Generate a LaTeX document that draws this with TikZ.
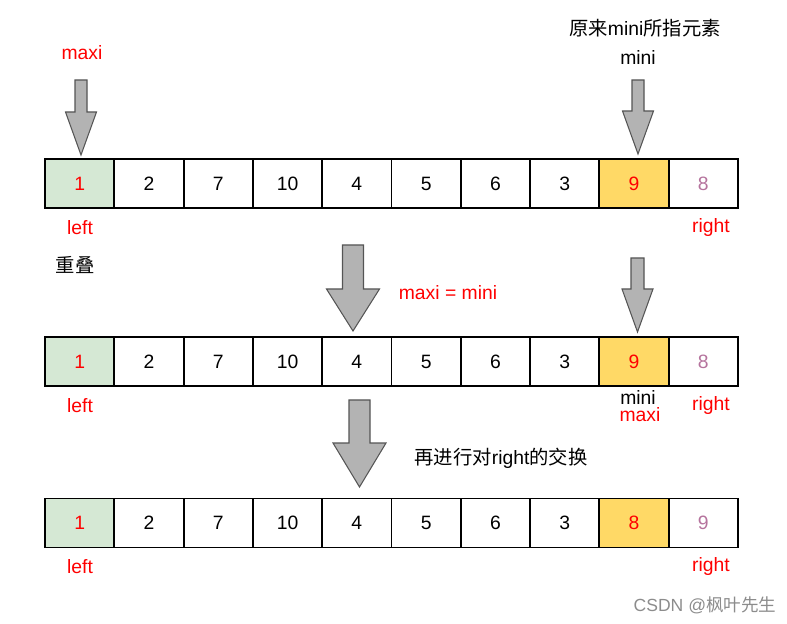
\documentclass[tikz,border=0pt]{standalone}
\usepackage{fontspec}
\setmainfont{Liberation Sans}
\newfontfamily\cjk{Noto Sans CJK SC}
\definecolor{leftfill}{HTML}{D5E8D4}
\definecolor{minfill}{HTML}{FFD966}
\definecolor{rightpurple}{HTML}{B5739D}
\definecolor{blkfill}{HTML}{B3B3B3}
\definecolor{blkdraw}{HTML}{555555}
\begin{document}
\begin{tikzpicture}[x=0.02cm, y=-0.02cm, font=\fontsize{11}{12}\selectfont, cell/.style={draw, line width=1.1pt, minimum width=1.386cm, minimum height=0.98cm, inner sep=0pt}, lab/.style={text=red, inner sep=0pt}, note/.style={inner sep=0pt}, blk/.style={draw=blkdraw, fill=blkfill, line width=0.6pt}]
	\useasboundingbox (0,0) rectangle (787,624);
	\foreach \r/\y/\m/\n in {1/183.5/9/8, 2/361.5/9/8, 3/523/8/9} {
		\node[cell, fill=leftfill, text=red] (r\r c1) at (79.65,\y) {1};
		\foreach \v [count=\i from 2] in {2,7,10,4,5,6,3}
			\node[cell] (r\r c\i) at ({45+69.3*(\i-0.5)},\y) {\v};
		\node[cell, fill=minfill, text=red] (r\r c9) at (634.05,\y) {\m};
		\node[cell, text=rightpurple] (r\r c10) at (703.35,\y) {\n};
		\node[lab] (left\r) at (80,\y+44) {left};
		\node[lab] (right\r) at (711,\y+44) {right};
	}
	% first row
	\node[lab] (maxi1) at (82,53) {maxi};
	\node[note] (title) at (645,28) {{\cjk 原来}mini{\cjk 所指元素}};
	\node[note] (mini1) at (638,58) {mini};
	\draw[blk] (75,80) -- (87,80) -- (87,112) -- (96.5,112) -- (81,155) -- (65.5,112) -- (75,112) -- cycle;
	\draw[blk] (632,80) -- (644,80) -- (644,111) -- (653.5,111) -- (638,154) -- (622.5,111) -- (632,111) -- cycle;
	% second row
	\node[note] (overlap) at (75,265) {\cjk 重叠};
	\node[lab] (same) at (448,293) {maxi = mini};
	\draw[blk] (342.5,245) -- (363.5,245) -- (363.5,289) -- (379.5,289) -- (353,331) -- (326.5,289) -- (342.5,289) -- cycle;
	\draw[blk] (631,258) -- (644,258) -- (644,289) -- (653,289) -- (637.5,332) -- (622,289) -- (631,289) -- cycle;
	\node[note] (mini2) at (638,397.5) {mini};
	\node[lab] (maxi2) at (640,415) {maxi};
	% third row
	\draw[blk] (349,400) -- (370,400) -- (370,443) -- (386,443) -- (359.5,487) -- (333,443) -- (349,443) -- cycle;
	\node[note] (swap) at (501,458) {{\cjk 再进行对}right{\cjk 的交换}};
	\node[text=black!45, font=\fontsize{10}{12}\selectfont] (mark) at (705,605) {CSDN @{\cjk 枫叶先生}};
\end{tikzpicture}
\end{document}
